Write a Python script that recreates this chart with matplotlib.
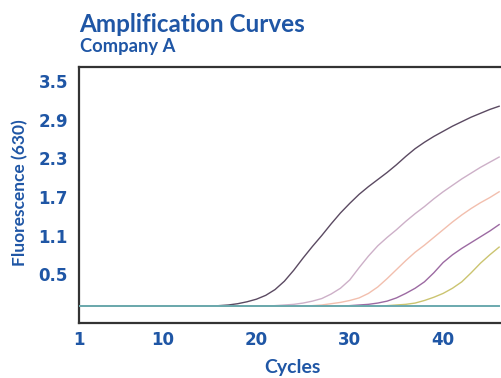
import numpy as np
import matplotlib
matplotlib.use("Agg")
import matplotlib.pyplot as plt

# Cycle numbers and fluorescence readings (630 nm channel) for each sample
cycles = list(range(1, 47))

sample_1 = [0.0] * 15 + [0.01, 0.02, 0.04, 0.07, 0.11, 0.17, 0.26, 0.39, 0.56, 0.75,
                         0.93, 1.10, 1.28, 1.45, 1.60, 1.74, 1.86, 1.97, 2.08, 2.20,
                         2.33, 2.45, 2.55, 2.64, 2.72, 2.80, 2.87, 2.94, 3.00, 3.06, 3.11]
sample_2 = [0.0] * 21 + [0.01, 0.02, 0.03, 0.05, 0.08, 0.12, 0.19, 0.28, 0.41, 0.60,
                         0.78, 0.94, 1.07, 1.19, 1.32, 1.44, 1.55, 1.67, 1.78, 1.88,
                         1.98, 2.07, 2.16, 2.24, 2.32]
sample_3 = [0.0] * 25 + [0.01, 0.02, 0.04, 0.06, 0.09, 0.13, 0.20, 0.30, 0.43, 0.57,
                         0.71, 0.84, 0.95, 1.07, 1.19, 1.31, 1.42, 1.52, 1.61, 1.69, 1.78]
sample_4 = [0.0] * 29 + [0.01, 0.02, 0.03, 0.05, 0.08, 0.13, 0.20, 0.28, 0.38, 0.52,
                         0.68, 0.80, 0.90, 0.99, 1.08, 1.17, 1.27]
sample_5 = [0.0] * 33 + [0.01, 0.02, 0.03, 0.05, 0.09, 0.14, 0.20, 0.28, 0.38, 0.52,
                         0.67, 0.80, 0.92]
negative = [0.0] * 46

samples = [sample_1, sample_2, sample_3, sample_4, sample_5]
sample_colors = ["#5b4a62", "#cdb0c8", "#f2bfae", "#9c6aa2", "#cbc470"]

x_ticks = [1, 10, 20, 30, 40]
y_ticks = [0.5, 1.1, 1.7, 2.3, 2.9, 3.5]

blue = "#1f56a5"
tick_font = "DejaVu Sans"
label_font = "Lato"

W, H = 501, 378
fig = plt.figure(figsize=(W / 100, H / 100), dpi=100)
ax = fig.add_axes([79 / W, 1 - 323 / H, 1 - 79 / W, (323 - 67) / H])

for vals, col in zip(samples, sample_colors):
    ax.plot(cycles, vals, color=col, lw=1.0, zorder=3)
ax.plot(cycles, negative, color="#6aa9ae", lw=1.4, zorder=4)

ax.set_xlim(1, 46.2)
ax.set_ylim(-0.26, 3.72)
ax.set_xticks(x_ticks)
ax.set_yticks(y_ticks)
ax.set_yticklabels([f"{v:.1f}" for v in y_ticks])
ax.tick_params(length=0, labelcolor=blue, labelsize=12)
ax.tick_params(axis="x", pad=6)
ax.tick_params(axis="y", pad=8)
for lab in ax.get_xticklabels() + ax.get_yticklabels():
    lab.set_fontweight("bold")
    lab.set_family(tick_font)

for side in ["left", "top", "bottom"]:
    ax.spines[side].set_color("#333333")
    ax.spines[side].set_linewidth(1.6)
ax.spines["right"].set_visible(False)

fig.text(292 / W, 1 - 373 / H, "Cycles", color=blue, fontsize=14,
         fontweight="bold", family=label_font, ha="center", va="baseline")
fig.text(20 / W, 1 - 193 / H, "Fluorescence (630)", color=blue, fontsize=12.5,
         fontweight="bold", family=label_font, ha="center", va="center", rotation=90)

fig.text(79 / W, 1 - 32 / H, "Amplification Curves", color=blue, fontsize=17.5,
         fontweight="bold", family=label_font, ha="left", va="baseline")
fig.text(80 / W, 1 - 52 / H, "Company A", color=blue, fontsize=13.2,
         fontweight="bold", family=label_font, ha="left", va="baseline")

fig.savefig("out.png", dpi=100)
